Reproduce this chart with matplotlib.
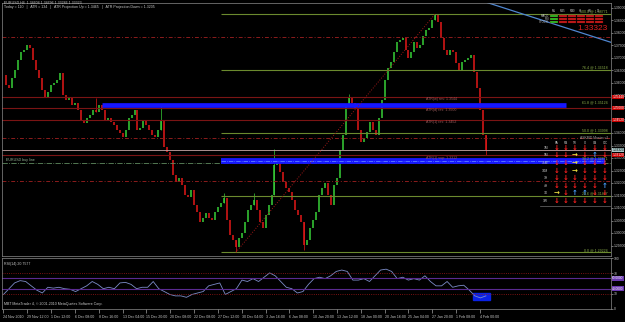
import numpy as np
import matplotlib.pyplot as plt
from matplotlib.patches import Rectangle
from matplotlib.ticker import MultipleLocator, FuncFormatter

plt.rcParams['font.family'] = ['Liberation Sans', 'DejaVu Sans']

# price data (one bar = two H4 candles of the original chart)
closes = [
    1.3632, 1.3592, 1.3580, 1.3620, 1.3652, 1.3692, 1.3724, 1.3732, 1.3752, 1.3740,
    1.3692, 1.3652, 1.3620, 1.3572, 1.3544, 1.3564, 1.3592, 1.3600, 1.3612, 1.3640,
    1.3552, 1.3532, 1.3540, 1.3512, 1.3520, 1.3492, 1.3452, 1.3440, 1.3460, 1.3472,
    1.3492, 1.3484, 1.3512, 1.3492, 1.3452, 1.3460, 1.3444, 1.3432, 1.3412, 1.3400,
    1.3384, 1.3412, 1.3460, 1.3472, 1.3492, 1.3412, 1.3420, 1.3452, 1.3432, 1.3412,
    1.3392, 1.3384, 1.3412, 1.3452, 1.3344, 1.3324, 1.3292, 1.3232, 1.3204, 1.3220,
    1.3192, 1.3152, 1.3144, 1.3172, 1.3112, 1.3084, 1.3044, 1.3060, 1.3080, 1.3060,
    1.3052, 1.3084, 1.3104, 1.3120, 1.3140, 1.3052, 1.2992, 1.2972, 1.2944, 1.2980,
    1.3000, 1.3044, 1.3092, 1.3112, 1.3132, 1.3092, 1.3044, 1.3020, 1.3072, 1.3112,
    1.3152, 1.3272, 1.3292, 1.3244, 1.3204, 1.3180, 1.3164, 1.3132, 1.3092, 1.3072,
    1.3044, 1.2952, 1.2972, 1.3020, 1.3052, 1.3084, 1.3152, 1.3180, 1.3200, 1.3152,
    1.3112, 1.3192, 1.3220, 1.3332, 1.3392, 1.3512, 1.3540, 1.3520, 1.3500, 1.3412,
    1.3364, 1.3380, 1.3404, 1.3444, 1.3412, 1.3392, 1.3460, 1.3532, 1.3612, 1.3660,
    1.3684, 1.3724, 1.3764, 1.3772, 1.3780, 1.3732, 1.3700, 1.3724, 1.3764, 1.3740,
    1.3752, 1.3788, 1.3812, 1.3820, 1.3852, 1.3872, 1.3844, 1.3780, 1.3732, 1.3712,
    1.3732, 1.3724, 1.3680, 1.3652, 1.3684, 1.3692, 1.3700, 1.3712, 1.3644, 1.3580,
    1.3492, 1.3392, 1.3332]
wick_bars = [31, 53, 74, 78, 84, 91, 101, 116, 145, 162]
wick_prices = [1.3540, 1.3508, 1.3160, 1.2924, 1.3160, 1.3336, 1.2932, 1.3556, 1.38771, 1.3312]

rsi = [28.5, 39.8, 51.1, 55.6, 53.9, 45.4, 37.0, 31.4, 42.6, 40.9, 42.6, 39.8, 38.7, 34.2,
       39.8, 45.4, 53.9, 48.3, 39.8, 42.6, 39.8, 51.1, 52.2, 48.3, 39.8, 42.6, 42.6, 53.9,
       39.8, 34.2, 28.5, 25.7, 25.7, 22.9, 28.5, 31.4, 34.2, 45.4, 48.3, 51.1, 28.5, 34.2,
       39.8, 56.7, 53.9, 59.5, 53.9, 62.3, 70.8, 65.1, 53.9, 42.6, 39.8, 31.4, 34.2, 48.3,
       59.5, 62.3, 59.5, 65.1, 73.6, 76.4, 73.6, 56.7, 56.7, 59.5, 53.9, 65.1, 76.4, 78.1,
       73.6, 59.5, 62.3, 56.7, 59.5, 56.7, 65.1, 53.9, 45.4, 45.4, 53.9, 42.6, 45.4, 46.6,
       37.0, 25.7, 21.8, 25.7]
rsi_label = 'RSI(14) 20.7577'

fib_levels = ['0.0', '23.6', '38.2', '50.0', '61.8', '76.4', '100.0']
fib_prices = [1.29224, 1.31477, 1.32871, 1.33998, 1.35124, 1.36518, 1.38771]
zone_prices = [1.35124, 1.32871]
zone_start = [33, 73]
atr_names = ['ATR(w) res', 'ATR(d) res', 'ATR(1) res', 'ATR(1) sup']
atr_prices = [1.3544, 1.3500, 1.3452, 1.3312]
dash_prices = [1.3784, 1.3380, 1.3208]
bid = 1.33323
buy_line = 1.3280
trend_bars = [160, 206]
trend_prices = [1.3931, 1.3755]

date_labels = ["24 Nov 2010", "29 Nov 12:00", "1 Dec 12:00", "6 Dec 08:00", "8 Dec 16:00",
               "13 Dec 04:00", "15 Dec 20:00", "20 Dec 08:00", "22 Dec 08:00", "27 Dec 12:00",
               "30 Dec 04:00", "3 Jan 16:00", "6 Jan 08:00", "10 Jan 20:00", "13 Jan 12:00",
               "18 Jan 00:00", "20 Jan 16:00", "25 Jan 04:00", "27 Jan 20:00", "1 Feb 08:00",
               "4 Feb 00:00"]

sig_cols = ['M5', 'M15', 'M30', 'H1', 'H4', 'D1']
sig_rows = ['MACD', 'RSI', 'STOCH']
sig_up = [[1, 0, 0, 0, 0, 0],
          [1, 0, 0, 0, 0, 0],
          [1, 0, 0, 0, 0, 0]]

tbl_cols = ['PA', 'RA', 'TR', 'CI', 'CA', 'C/C']
tbl_rows = ['1M', '5M', '15M', '30M', '1H', '4H', '1D', '1W']
tbl_sig = ['dddddd', 'ddndud', 'ddnddd', 'ddnddd', 'dddddd', 'dddddu', 'nduudd', 'dddddd']

W, H = 625, 322
BG = 'black'
GREY = '#c8c8c8'


def box(x0, y0, x1, y1):
    return [x0 / W, 1 - y1 / H, (x1 - x0) / W, (y1 - y0) / H]


def fx(x):
    return x / W


def fy(y):
    return 1 - y / H


def axis_tag(a, y, txt, fc, tc):
    a.text(1.002, y, txt, transform=a.get_yaxis_transform(), color=tc, fontsize=2.3,
           va='center', ha='left', bbox=dict(boxstyle='square,pad=0.12', fc=fc, ec='none'))


fig = plt.figure(figsize=(6.25, 3.22), dpi=100, facecolor=BG)
ax = fig.add_axes(box(2, 3, 611, 256), facecolor=BG)
ax2 = fig.add_axes(box(2, 258, 611, 309), facecolor=BG)

n = len(closes)
bars = np.arange(n)
c = np.array(closes)
o = np.r_[c[0], c[:-1]]
up = c >= o
cols = np.where(up, '#37d037', '#e41818')
xmax = 204.0

# candles
ax.vlines(bars, np.minimum(o, c), np.maximum(o, c), colors=cols, lw=1.1)
for b, p in zip(wick_bars, wick_prices):
    ax.vlines(b, min(p, c[b], o[b]), max(p, c[b], o[b]), colors=cols[b], lw=0.5)

# horizontal levels
for p in atr_prices:
    ax.axhline(p, color='#7a1414', lw=0.8)
for p in dash_prices:
    ax.axhline(p, color='#8c1c1c', lw=0.7, ls=(0, (4, 2, 1, 2)))
ax.axhline(bid, color='#c8a8a8', lw=0.6)
ax.axhline(buy_line, color='#5f8a5f', lw=0.6, ls='-.')

lo_bar, hi_bar = int(np.argmin(c)), int(np.argmax(c))
for lvl, p in zip(fib_levels, fib_prices):
    if p not in zone_prices:
        ax.hlines(p, lo_bar - 5, xmax, color='#6b8a2e', lw=0.8)
    ax.text(xmax - 1, p + 0.0002, f'{lvl} @ {p:.5f}', color='#8cb04a', fontsize=2.6,
            ha='right', va='bottom')
ax.hlines(zone_prices[0], zone_start[0], 189, color='#1616ff', lw=3.4)
ax.hlines(zone_prices[1], zone_start[1], xmax - 2, color='#1616ff', lw=4.2)
ax.hlines(zone_prices[1], zone_start[1], xmax - 2, color='#6a96ff', lw=0.5, ls='-.')
ax.plot([lo_bar, hi_bar], [fib_prices[0], fib_prices[-1]], color='#a01818', lw=0.7, ls=':')
ax.plot(trend_bars, trend_prices, color='#4f86d0', lw=0.9)

for name, p in zip(atr_names, atr_prices):
    ax.text(142, p - 0.0002, f'{name}: {p:.4f}', color='#9a5a5a', fontsize=2.6, va='top')
    axis_tag(ax, p, f'{p:.5f}', '#c80000', 'white')
axis_tag(ax, bid, f'{bid:.5f}', '#a8c8c8', 'black')
ax.text(1, buy_line + 0.0003, 'EURUSD buy line', color='#9ab89a', fontsize=2.6, va='bottom')
fig.text(fx(608), fy(137.5), 'ASKBID Master v2', color='#a0a0a0', fontsize=2.4, ha='right',
         va='center')

ax.set_xlim(-0.5, xmax)
ax.set_ylim(1.2908, 1.3920)
ax.yaxis.tick_right()
ax.yaxis.set_major_locator(MultipleLocator(0.005))
ax.yaxis.set_major_formatter(FuncFormatter(lambda v, pos: f'{v:.5f}'))
ax.tick_params(axis='y', colors=GREY, labelsize=2.4, length=1.2, width=0.4, pad=0.8)
ax.set_xticks([])

# RSI panel
rsi_x = np.linspace(0, n - 1, len(rsi))
ax2.plot(rsi_x, rsi, color='#7c8cc8', lw=0.6)
for lv in (70, 30):
    ax2.axhline(lv, color='#a01818', lw=0.6, ls=':')
for lv in (60, 40):
    ax2.axhline(lv, color='#5a2a90', lw=0.8)
    axis_tag(ax2, lv, f'{lv:.4f}', '#6a38b0', 'white')
ax2.add_patch(Rectangle((157.6, 17.6), 5.7, 12.8, color='#0a22e6', zorder=0))
ax2.set_xlim(-0.5, xmax)
ax2.set_ylim(0, 100)
ax2.yaxis.tick_right()
ax2.set_yticks([0, 30, 70, 100])
ax2.tick_params(axis='y', colors=GREY, labelsize=2.4, length=1.2, width=0.4, pad=0.8)
ax2.set_xticks(np.arange(0, 8 * len(date_labels), 8))
ax2.set_xticklabels(date_labels, ha='left')
ax2.tick_params(axis='x', colors=GREY, labelsize=2.6, length=3, width=0.4, pad=1.5)
ax2.text(0.004, 0.93, rsi_label, transform=ax2.transAxes, color=GREY, fontsize=2.6, va='top')
ax2.text(0.004, 0.06, 'MBT MetaTrader 4, \u00a9 2001-2010 MetaQuotes Software Corp.',
         transform=ax2.transAxes, color=GREY, fontsize=2.6, va='bottom')

for a in (ax, ax2):
    for s in a.spines.values():
        s.set_color('#8a8a8a')
        s.set_linewidth(0.5)

# header text
fig.text(fx(4), fy(3), 'EURUSD,H4  1.34604 1.34696 1.33286 1.33323', color=GREY,
         fontsize=2.6, va='center')
fig.text(fx(4), fy(7), 'Today = 110   |   ATR = 134   |   ATR Projection Up = 1.3465   |   '
         'ATR Projection Down = 1.3205', color=GREY, fontsize=2.6, va='center')

# signal matrix (top right)
for j, name in enumerate(sig_cols):
    fig.text(fx(554 + 9 * j), fy(10.5), name, color=GREY, fontsize=2.0, ha='center',
             va='center')
for i, name in enumerate(sig_rows):
    fig.text(fx(549), fy(16 + 3 * i), name, color=GREY, fontsize=2.0, ha='right', va='center')
    for j in range(len(sig_cols)):
        fc = '#28c828' if sig_up[i][j] else '#c81c1c'
        fig.patches.append(Rectangle((fx(550 + 9 * j), fy(17.4 + 3 * i)), 8 / W, 2.6 / H,
                                     transform=fig.transFigure, fc=fc, ec='#600000', lw=0.2))
fig.text(fx(608), fy(29), f'{bid:.5f}', color='#e02020', fontsize=6, ha='right', va='center')

# trend table (lower right)
glyph = {'d': ('\u2193', '#ff2020'), 'u': ('\u2191', '#4aa0ff'), 'n': ('\u2192', '#f0e040')}
col_x = [557, 566, 575, 585, 595, 605]
row_y = [148, 155, 163, 171, 178, 186, 193, 201]
for j, name in enumerate(tbl_cols):
    fig.text(fx(col_x[j]), fy(142.5), name, color=GREY, fontsize=2.2, ha='center',
             va='center')
for i, name in enumerate(tbl_rows):
    fig.text(fx(548), fy(row_y[i]), name, color=GREY, fontsize=2.3, ha='right', va='center')
    for j, s in enumerate(tbl_sig[i]):
        g, col = glyph[s]
        fig.text(fx(col_x[j]), fy(row_y[i]), g, color=col, fontsize=5, ha='center',
                 va='center', family='DejaVu Sans', fontweight='bold')
fig.lines.append(plt.Line2D([fx(540), fx(610)], [fy(206), fy(206)], transform=fig.transFigure,
                            color='#707070', lw=0.5))

fig.savefig('out.png', dpi=100, facecolor=BG)
